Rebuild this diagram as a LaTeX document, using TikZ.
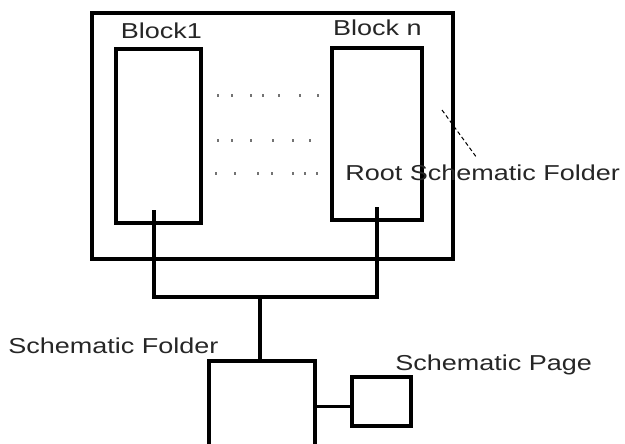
\documentclass[tikz,border=0pt]{standalone}
\usepackage{fontspec}
\setmainfont{Liberation Sans}[FakeStretch=1.25]
\begin{document}
\begin{tikzpicture}[
  x=0.75pt, y=-0.75pt,
  font=\fontsize{16.2}{19}\selectfont,
  rootbox/.style={rectangle, draw=black, line width=2.6pt, inner sep=0pt, outer sep=0pt},
  block/.style={rectangle, draw=black, line width=2.4pt, inner sep=0pt, outer sep=0pt},
  wire/.style={draw=black, line width=2.3pt},
  caption/.style={inner sep=0pt, text=black!85},
  leader/.style={draw=black, line width=0.75pt, densely dashed},
  dotmark/.style={fill=black!55},
]
\useasboundingbox (0,0) rectangle (625,443);
\clip (0,0) rectangle (625,443);

%% Root folder and blocks
\node[rootbox, minimum width=270.75pt, minimum height=184.5pt] (root) at (272.5,136) {};
\node[block, minimum width=63.75pt, minimum height=130.5pt] (b1) at (158.5,136) {};
\node[block, minimum width=67.5pt, minimum height=129pt] (bn) at (377,134) {};

%% Lower folder and page
\node[block, minimum width=79.5pt, minimum height=82.5pt] (folder) at (262,416) {};
\node[block, minimum width=44.25pt, minimum height=36.75pt] (page) at (381.5,401.5) {};

%% Labels
\node[caption, anchor=base] (t1) at (161.5,38) {Block1};
\node[caption, anchor=base] (tn) at (377.5,35) {Block n};
\node[caption, anchor=base west] (troot) at (345,180) {Root Schematic Folder};
\node[caption, anchor=base west] (tfolder) at (8,353) {Schematic Folder};
\node[caption, anchor=base west] (tpage) at (395,370) {Schematic Page};

%% Dots between the blocks
\foreach \x in {217,231,250,262,278,299,317}
  \fill[dotmark] (\x,94) rectangle ++(1.5,2.5);
\foreach \x in {217,231,250,272,292,309}
  \fill[dotmark] (\x,139) rectangle ++(1.5,2.5);
\foreach \x in {215,234,257,271,292,304,316}
  \fill[dotmark] (\x,172) rectangle ++(1.5,2.5);

%% Connectors
\coordinate (s1) at (154,210);
\coordinate (sn) at (377,207);
\coordinate (j) at (260,297);
\coordinate (pw) at ([yshift=-4pt]page.west);
\draw[wire] (s1) |- (j) -| (sn);
\draw[wire] (j) -- (folder.north -| j);
\draw[wire] (pw) -- (pw -| folder.east);

%% Leader to root label
\coordinate (la) at (442,110);
\coordinate (lb) at (477,158);
\draw[leader] (la) -- (lb);

\end{tikzpicture}
\end{document}
